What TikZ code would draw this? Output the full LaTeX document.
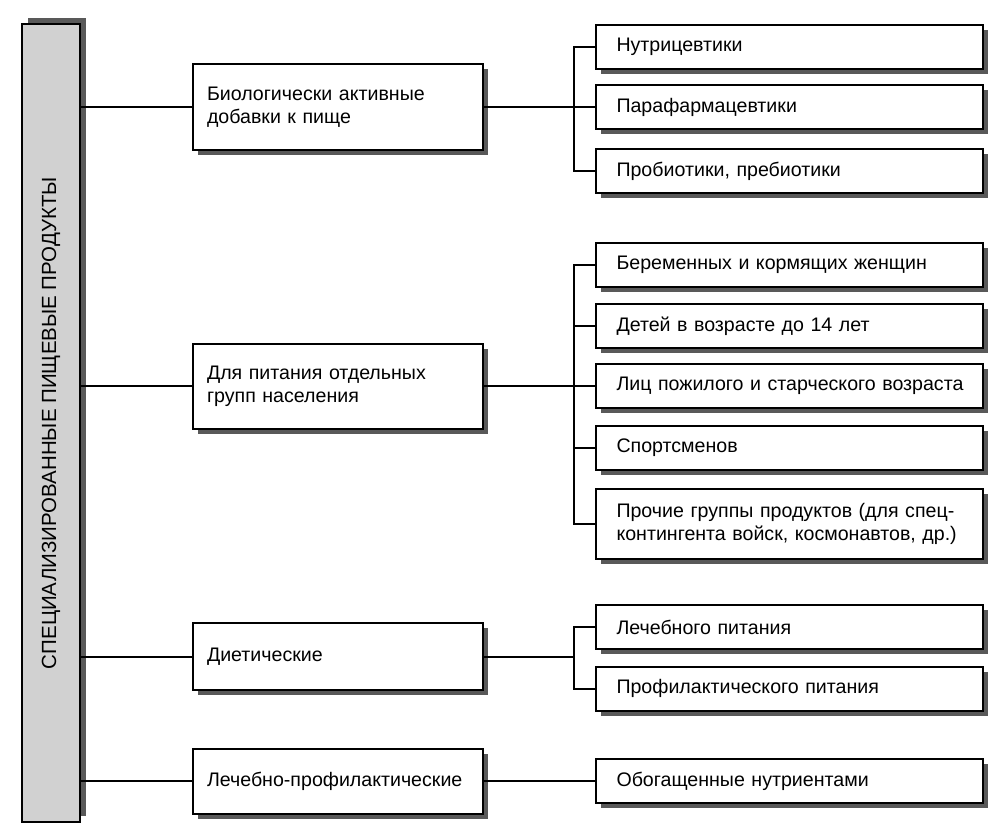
\documentclass[tikz,border=0pt]{standalone}
\usepackage{fontspec}
\setmainfont{Liberation Sans}
\usetikzlibrary{shadows}

\begin{document}
\begin{tikzpicture}[x=1pt,y=-1pt,line width=2pt,
  font=\fontsize{19.6}{23}\selectfont,
  root node/.style={draw,rotate=90,minimum width=798,minimum height=58,inner sep=0,
    fill=black!18,font=\fontsize{20.5}{24}\selectfont,
    drop shadow={opacity=1,fill=black!65,shadow xshift=6pt,shadow yshift=6pt}},
  main node/.style={draw,fill=white,minimum width=290,text width=262,inner xsep=14,
    inner ysep=0,align=left,
    drop shadow={opacity=1,fill=black!65,shadow xshift=5pt,shadow yshift=-5pt}},
  leaf node/.style={draw,fill=white,minimum width=387,minimum height=44,text width=346,
    inner xsep=20.5,inner ysep=0,align=left,
    drop shadow={opacity=1,fill=black!65,shadow xshift=5pt,shadow yshift=-5pt}}]

\useasboundingbox (0,0) rectangle (1006,835);

\node[root node] (root) at (51,423) {СПЕЦИАЛИЗИРОВАННЫЕ ПИЩЕВЫЕ ПРОДУКТЫ};

\node[main node,minimum height=86] (bio) at (338,107) {Биологически активные\\добавки к пище};
\node[main node,minimum height=85] (groups) at (338,386) {Для питания отдельных\\групп населения};
\node[main node,minimum height=67] (diet) at (338,656.5) {Диетические};
\node[main node,minimum height=65] (lp) at (338,781) {Лечебно-профилактические};

\node[leaf node] (nutri) at (789.5,47) {Нутрицевтики};
\node[leaf node] (para) at (789.5,107) {Парафармацевтики};
\node[leaf node] (prob) at (789.5,171) {Пробиотики, пребиотики};

\node[leaf node] (preg) at (789.5,264.5) {Беременных и кормящих женщин};
\node[leaf node] (kids) at (789.5,326) {Детей в возрасте до 14 лет};
\node[leaf node] (old) at (789.5,386) {\mbox{Лиц пожилого и старческого возраста}};
\node[leaf node] (sport) at (789.5,448) {Спортсменов};
\node[leaf node,minimum height=70] (other) at (789.5,524) {Прочие группы продуктов (для спец-\\контингента войск, космонавтов, др.)};

\node[leaf node] (cure) at (789.5,627) {Лечебного питания};
\node[leaf node] (prev) at (789.5,688.5) {Профилактического питания};

\node[leaf node] (rich) at (789.5,781) {Обогащенные нутриентами};

\coordinate (j1) at (574,107);
\coordinate (j2) at (574,386);
\coordinate (j3) at (574,656.5);

\foreach \n in {bio,groups,diet,lp}
  \draw (root.south |- \n.west) -- (\n.west);

\draw (bio.east) -- (j1) -- (para.west);
\draw (nutri.west) -| (j1) |- (prob.west);

\draw (groups.east) -- (j2) -- (old.west);
\draw (preg.west) -| (j2) |- (other.west);
\draw (kids.west) -- (kids.west -| j2);
\draw (sport.west) -- (sport.west -| j2);

\draw (diet.east) -- (j3);
\draw (cure.west) -| (j3) |- (prev.west);

\draw (lp.east) -- (rich.west);

\end{tikzpicture}
\end{document}
